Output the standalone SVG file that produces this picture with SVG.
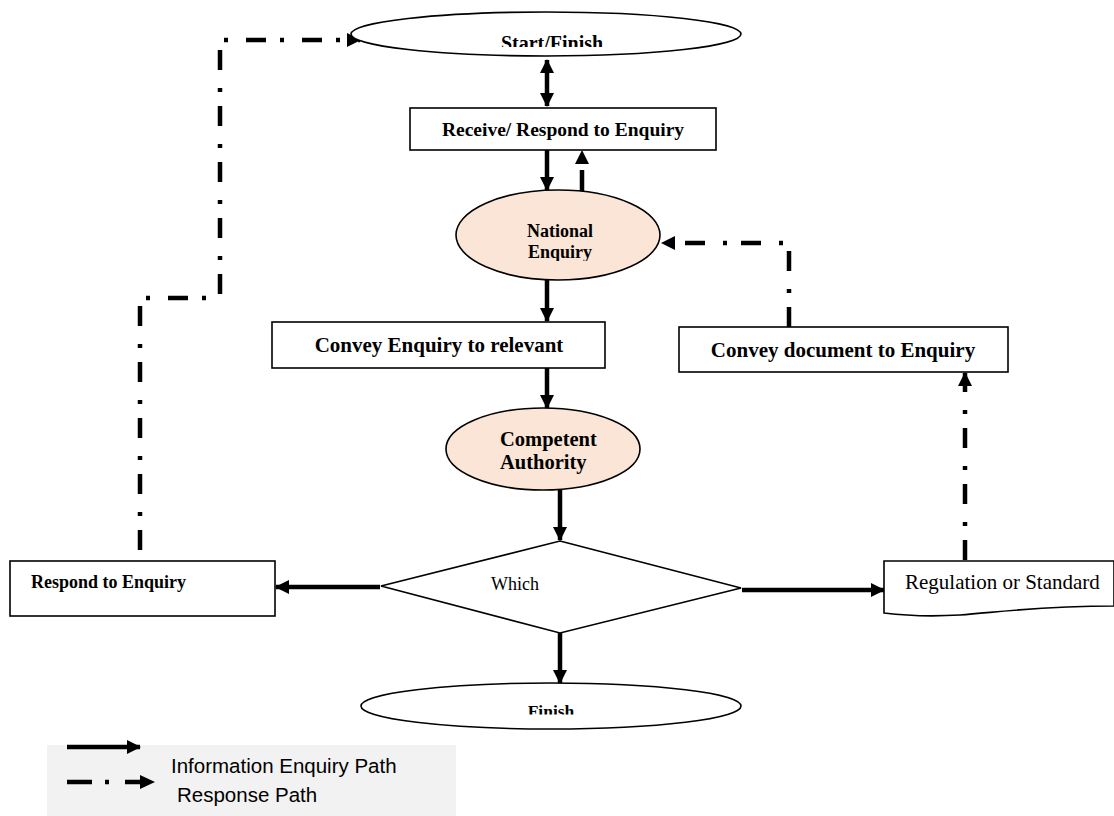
<svg xmlns="http://www.w3.org/2000/svg" width="1114" height="816" viewBox="0 0 1114 816">
<style>
.shape{fill:#fff;stroke:#000;stroke-width:1.6}
.peach{fill:#fbe5d6;stroke:#000;stroke-width:1.6}
.b{font-family:"Liberation Serif","Times New Roman",serif;font-weight:bold;fill:#000}
.r{font-family:"Liberation Serif","Times New Roman",serif;fill:#000}
.sans{font-family:"Liberation Sans",Arial,sans-serif;fill:#000;font-size:20.5px}
.solid{fill:none;stroke:#000;stroke-width:4.5}
.dash{fill:none;stroke:#000;stroke-width:4.5;stroke-dasharray:20 14 4 18}
</style>
<defs>
<marker id="ah" markerUnits="userSpaceOnUse" markerWidth="14" markerHeight="14" refX="13" refY="7" orient="auto-start-reverse" viewBox="0 0 14 14">
<path d="M0,0 L14,7 L0,14 z" fill="#000"/>
</marker>
<clipPath id="c1"><rect x="340" y="0" width="420" height="47"/></clipPath>
<clipPath id="c2"><rect x="340" y="680" width="420" height="34.5"/></clipPath>
<clipPath id="c3"><rect x="440" y="180" width="240" height="81"/></clipPath>
</defs>

<g id="legend">
<rect x="47" y="745" width="409" height="71" fill="#f2f2f2"/>
<path class="solid" d="M67,747 L140,747" marker-end="url(#ah)"/>
<path d="M67,782 L92,782 M105,782 L109,782 M125,782 L142,782" stroke="#000" stroke-width="4.5" fill="none"/>
<path d="M140,775 L155,782 L140,789 z" fill="#000"/>
<text class="sans" x="171" y="773">Information Enquiry Path</text>
<text class="sans" x="177" y="802">Response Path</text>
</g>

<g id="connectors">
<path class="solid" d="M547,60 L547,106" marker-start="url(#ah)" marker-end="url(#ah)"/>
<path class="solid" d="M547,150 L547,190" marker-end="url(#ah)"/>
<path class="solid" d="M547,280 L547,321" marker-end="url(#ah)"/>
<path class="solid" d="M547,368 L547,408" marker-end="url(#ah)"/>
<path class="solid" d="M560,490 L560,540" marker-end="url(#ah)"/>
<path class="solid" d="M380,587 L276,587" marker-end="url(#ah)"/>
<path class="solid" d="M742,590 L884,590" marker-end="url(#ah)"/>
<path class="solid" d="M560,633 L560,683" marker-end="url(#ah)"/>
<path class="dash" d="M582,192 L582,151" style="stroke-dasharray:22 30" marker-end="url(#ah)"/>
<path class="dash" d="M140,550 L140,298 L220,298 L220,40 L360,40" marker-end="url(#ah)"/>
<path class="dash" d="M965,560 L965,373" marker-end="url(#ah)"/>
<path class="dash" d="M789,327 L789,243 L662,243" marker-end="url(#ah)"/>
</g>

<g id="start">
<ellipse class="shape" cx="546" cy="34" rx="195" ry="22"/>
<text class="b" x="552" y="50" font-size="20" text-anchor="middle" clip-path="url(#c1)">Start/Finish</text>
</g>

<g id="receive">
<rect class="shape" x="410" y="108" width="306" height="42"/>
<text class="b" x="563" y="136" font-size="19.5" text-anchor="middle">Receive/ Respond to Enquiry</text>
</g>

<g id="national">
<ellipse class="peach" cx="558" cy="235" rx="102" ry="45"/>
<g clip-path="url(#c3)">
<text class="b" x="560" y="237" font-size="18" text-anchor="middle">National</text>
<text class="b" x="560" y="258" font-size="18" text-anchor="middle">Enquiry</text>
</g>
</g>

<g id="convey-enquiry">
<rect class="shape" x="272" y="322" width="333" height="46"/>
<text class="b" x="439" y="352" font-size="21" text-anchor="middle">Convey Enquiry to relevant</text>
</g>

<g id="convey-document">
<rect class="shape" x="679" y="327" width="329" height="45"/>
<text class="b" x="843" y="357" font-size="21" text-anchor="middle">Convey document to Enquiry</text>
</g>

<g id="competent">
<ellipse class="peach" cx="543" cy="449" rx="97" ry="41"/>
<text class="b" x="500" y="446" font-size="20.5">Competent</text>
<text class="b" x="500" y="469" font-size="20.5">Authority</text>
</g>

<g id="which">
<path class="shape" d="M560,541 L741,588 L560,633 L381,586 Z"/>
<text class="r" x="491" y="590" font-size="18">Which</text>
</g>

<g id="respond">
<rect class="shape" x="10" y="561" width="265" height="55"/>
<text class="b" x="31" y="588" font-size="18">Respond to Enquiry</text>
</g>

<g id="regulation">
<path class="shape" d="M884,561 H1114 V606 C1040,606 1000,612 960,615 C925,617 900,615 884,613 Z"/>
<text class="r" x="905" y="589" font-size="21">Regulation or Standard</text>
</g>

<g id="finish">
<ellipse class="shape" cx="551" cy="706" rx="190" ry="23"/>
<text class="b" x="551" y="717" font-size="17.5" text-anchor="middle" clip-path="url(#c2)">Finish</text>
</g>
</svg>
